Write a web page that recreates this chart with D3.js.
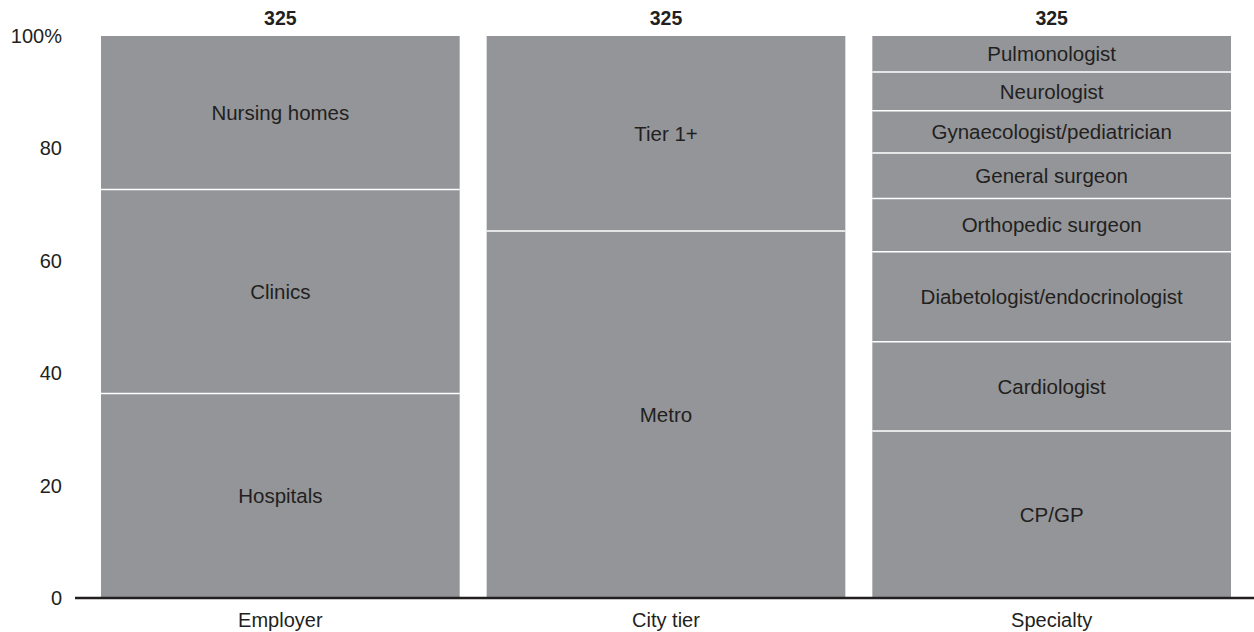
<!DOCTYPE html>
<html lang="en">
<head>
    <meta charset="UTF-8">
    <title>Stacked 100% columns</title>
    <script src="https://d3js.org/d3.v7.min.js"></script>
    <style>
        body { margin: 0; background: #fff; }
        text { font-family: Arial, "Liberation Sans", sans-serif; fill: #231f20; }
        .seg-label { font-size: 20.5px; }
        .tick-label { font-size: 20px; }
        .total { font-size: 19.5px; font-weight: bold; }
    </style>
</head>
<body>
    <svg id="chart"></svg>
    <script>
        // Chart data (shares in %)
        const groups = ["Employer", "City tier", "Specialty"];
        const totals = [325, 325, 325];
        const employerLabels = ["Hospitals", "Clinics", "Nursing homes"];
        const employerValues = [36.4, 36.3, 27.3];
        const cityLabels = ["Metro", "Tier 1+"];
        const cityValues = [65.3, 34.7];
        const specialtyLabels = ["CP/GP", "Cardiologist", "Diabetologist/endocrinologist", "Orthopedic surgeon",
            "General surgeon", "Gynaecologist/pediatrician", "Neurologist", "Pulmonologist"];
        const specialtyValues = [29.7, 15.9, 16.0, 9.5, 8.1, 7.5, 6.9, 6.4];
        const yTicks = [0, 20, 40, 60, 80, 100];

        const width = 1254, height = 632;
        const svg = d3.select("#chart").attr("width", width).attr("height", height);

        const x = d3.scaleBand()
            .domain(groups)
            .range([87.5, 1244.5])
            .paddingInner(0.07)
            .paddingOuter(0.035);

        const y = d3.scaleLinear().domain([0, 100]).range([598, 36]);

        const stacks = [
            { labels: employerLabels, values: employerValues },
            { labels: cityLabels, values: cityValues },
            { labels: specialtyLabels, values: specialtyValues }
        ];

        stacks.forEach((s, gi) => {
            const g = svg.append("g");
            let acc = 0;
            s.values.forEach((v, i) => {
                const y0 = acc, y1 = acc + v;
                acc = y1;
                g.append("rect")
                    .attr("x", x(groups[gi]))
                    .attr("width", x.bandwidth())
                    .attr("y", y(y1))
                    .attr("height", y(y0) - y(y1))
                    .attr("fill", "#939598");
                if (i > 0) {
                    g.append("line")
                        .attr("x1", x(groups[gi]))
                        .attr("x2", x(groups[gi]) + x.bandwidth())
                        .attr("y1", y(y0))
                        .attr("y2", y(y0))
                        .attr("stroke", "#fff")
                        .attr("stroke-width", 1.5);
                }
                g.append("text")
                    .attr("class", "seg-label")
                    .attr("x", x(groups[gi]) + x.bandwidth() / 2)
                    .attr("y", y((y0 + y1) / 2))
                    .attr("dy", "0.35em")
                    .attr("text-anchor", "middle")
                    .text(s.labels[i]);
            });
            // total on top
            svg.append("text")
                .attr("class", "total")
                .attr("x", x(groups[gi]) + x.bandwidth() / 2)
                .attr("y", y(100) - 11)
                .attr("text-anchor", "middle")
                .text(totals[gi]);
            // category label
            svg.append("text")
                .attr("class", "tick-label")
                .attr("x", x(groups[gi]) + x.bandwidth() / 2)
                .attr("y", 627)
                .attr("text-anchor", "middle")
                .text(groups[gi]);
        });

        // y tick labels
        svg.selectAll(".ytick")
            .data(yTicks)
            .enter().append("text")
            .attr("class", "tick-label")
            .attr("x", 62)
            .attr("y", d => y(d))
            .attr("dy", "0.35em")
            .attr("text-anchor", "end")
            .text(d => d === 100 ? "100%" : d);

        // baseline
        svg.append("line")
            .attr("x1", 75).attr("x2", width)
            .attr("y1", y(0)).attr("y2", y(0))
            .attr("stroke", "#231f20")
            .attr("stroke-width", 2.5);
    </script>
</body>
</html>
